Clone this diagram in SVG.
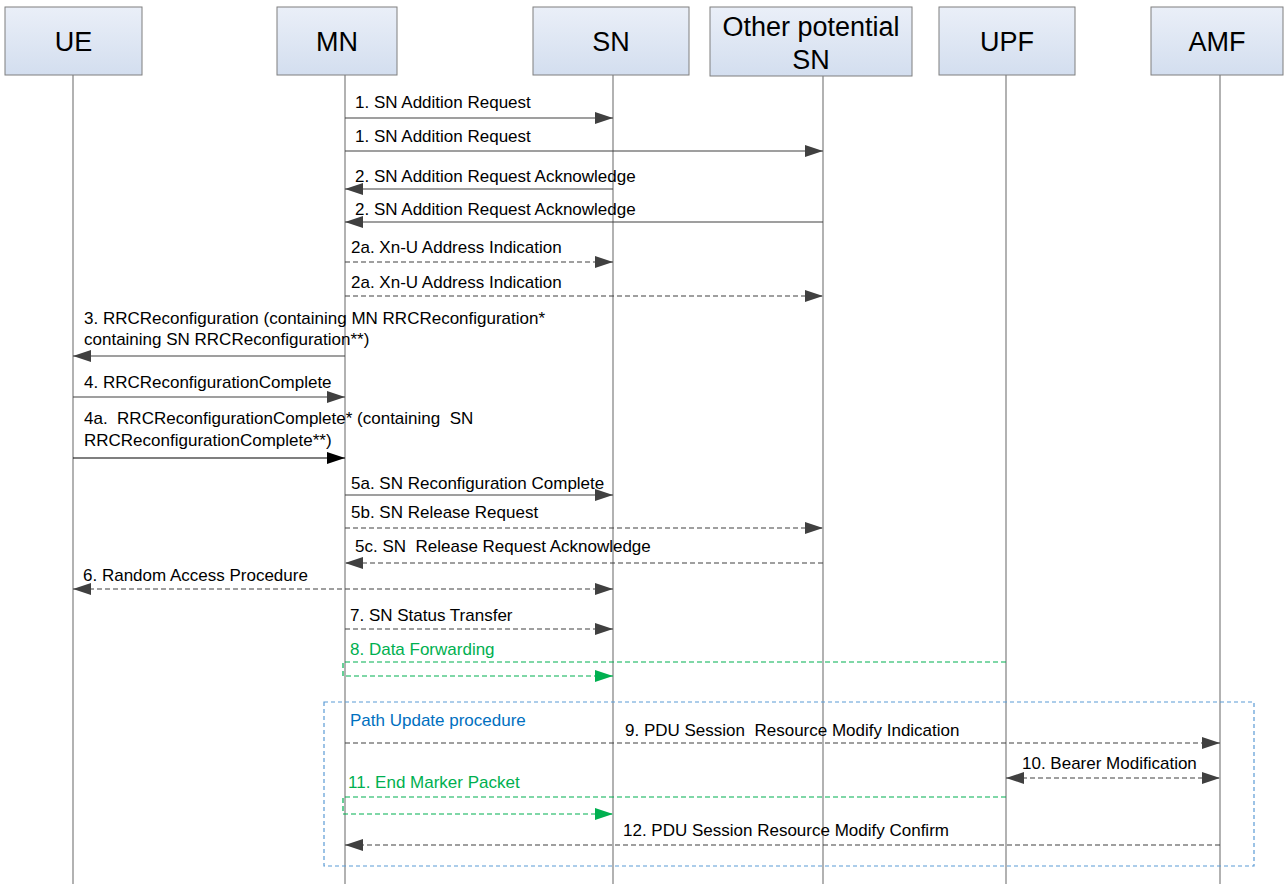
<svg xmlns="http://www.w3.org/2000/svg" width="1284" height="884" viewBox="0 0 1284 884">
<defs>
<linearGradient id="g" x1="0" y1="0" x2="0" y2="1"><stop offset="0" stop-color="#eaeff8"/><stop offset="1" stop-color="#d3deef"/></linearGradient>
<marker id="a" viewBox="0 0 18 12" refX="18" refY="6" markerWidth="18" markerHeight="12" markerUnits="userSpaceOnUse" orient="auto"><path d="M0,0L18,6L0,12z" fill="#404040"/></marker>
<marker id="as" viewBox="0 0 18 12" refX="0" refY="6" markerWidth="18" markerHeight="12" markerUnits="userSpaceOnUse" orient="auto"><path d="M18,0L0,6L18,12z" fill="#404040"/></marker>
<marker id="ab" viewBox="0 0 18 12" refX="18" refY="6" markerWidth="18" markerHeight="12" markerUnits="userSpaceOnUse" orient="auto"><path d="M0,0L18,6L0,12z" fill="#000"/></marker>
<marker id="ag" viewBox="0 0 18 12" refX="18" refY="6" markerWidth="18" markerHeight="12" markerUnits="userSpaceOnUse" orient="auto"><path d="M0,0L18,6L0,12z" fill="#00B050"/></marker>
</defs>
<style>
.box{fill:url(#g);stroke:#7f7f7f;stroke-width:1}
.hd{font-family:"Liberation Sans",Arial,sans-serif;font-size:27px;fill:#000;text-anchor:middle}
.life{stroke:#7f7f7f;stroke-width:1.2;fill:none}
.m{stroke:#404040;stroke-width:1.2;fill:none}
.d{stroke-dasharray:5,3}
.g{stroke:#00B050}
.t{font-family:"Liberation Sans",Arial,sans-serif;font-size:17px;fill:#000;white-space:pre}
.tg{fill:#00B050}
.tb{fill:#0070C0}
</style>
<g id="UE"><rect class="box" x="5" y="7" width="137" height="68"/><text class="hd" x="73.5" y="51">UE</text></g>
<g id="MN"><rect class="box" x="277" y="7" width="120" height="68"/><text class="hd" x="337" y="51">MN</text></g>
<g id="SN"><rect class="box" x="533" y="7" width="156" height="68"/><text class="hd" x="611" y="51">SN</text></g>
<g id="OtherSN"><rect class="box" x="710" y="7" width="202" height="69"/><text class="hd" x="811" y="36">Other potential</text><text class="hd" x="811" y="69">SN</text></g>
<g id="UPF"><rect class="box" x="939" y="7" width="136" height="68"/><text class="hd" x="1007" y="51">UPF</text></g>
<g id="AMF"><rect class="box" x="1151" y="7" width="132" height="68"/><text class="hd" x="1217" y="51">AMF</text></g>
<g id="lifelines">
<line class="life" x1="73" y1="75" x2="73" y2="884"/>
<line class="life" x1="345" y1="75" x2="345" y2="884"/>
<line class="life" x1="613" y1="75" x2="613" y2="884"/>
<line class="life" x1="823" y1="76" x2="823" y2="884"/>
<line class="life" x1="1006" y1="75" x2="1006" y2="884"/>
<line class="life" x1="1220" y1="75" x2="1220" y2="884"/>
</g>
<g id="pathupdate">
<rect x="324" y="702" width="930" height="164" fill="none" stroke="#5B9BD5" stroke-width="1.2" stroke-dasharray="4,3"/>
<text class="t tb" x="350" y="726">Path Update procedure</text>
</g>
<g id="connectors">
<line class="m" x1="345" y1="118" x2="613" y2="118" marker-end="url(#a)"/>
<line class="m" x1="345" y1="151" x2="823" y2="151" marker-end="url(#a)"/>
<line class="m" x1="613" y1="189" x2="345" y2="189" marker-end="url(#a)"/>
<line class="m" x1="823" y1="222" x2="345" y2="222" marker-end="url(#a)"/>
<line class="m d" x1="345" y1="262" x2="613" y2="262" marker-end="url(#a)"/>
<line class="m d" x1="345" y1="296" x2="823" y2="296" marker-end="url(#a)"/>
<line class="m" x1="345" y1="356" x2="73" y2="356" marker-end="url(#a)"/>
<line class="m" x1="73" y1="397" x2="345" y2="397" marker-end="url(#a)"/>
<line x1="73" y1="458" x2="345" y2="458" stroke="#000" stroke-width="1.2" marker-end="url(#ab)"/>
<line class="m" x1="345" y1="495" x2="613" y2="495" marker-end="url(#a)"/>
<line class="m d" x1="345" y1="528" x2="823" y2="528" marker-end="url(#a)"/>
<line class="m d" x1="823" y1="563" x2="345" y2="563" marker-end="url(#a)"/>
<line class="m d" x1="73" y1="589" x2="613" y2="589" marker-start="url(#as)" marker-end="url(#a)"/>
<line class="m d" x1="345" y1="629" x2="613" y2="629" marker-end="url(#a)"/>
<polyline class="m d g" points="1006,662 343,662 343,676 613,676" marker-end="url(#ag)"/>
<line class="m d" x1="345" y1="743" x2="1220" y2="743" marker-end="url(#a)"/>
<line class="m d" x1="1006" y1="778" x2="1220" y2="778" marker-start="url(#as)" marker-end="url(#a)"/>
<polyline class="m d g" points="1006,797 343,797 343,814 613,814" marker-end="url(#ag)"/>
<line class="m d" x1="1220" y1="845" x2="345" y2="845" marker-end="url(#a)"/>
</g>
<g id="labels">
<text class="t" x="355" y="108">1. SN Addition Request</text>
<text class="t" x="355" y="142">1. SN Addition Request</text>
<text class="t" x="355" y="182">2. SN Addition Request Acknowledge</text>
<text class="t" x="355" y="215">2. SN Addition Request Acknowledge</text>
<text class="t" x="351" y="253">2a. Xn-U Address Indication</text>
<text class="t" x="351" y="288">2a. Xn-U Address Indication</text>
<text class="t" x="84" y="324">3. RRCReconfiguration (containing MN RRCReconfiguration*</text>
<text class="t" x="84" y="345">containing SN RRCReconfiguration**)</text>
<text class="t" x="84" y="388">4. RRCReconfigurationComplete</text>
<text class="t" x="84" y="424">4a.  RRCReconfigurationComplete* (containing  SN</text>
<text class="t" x="84" y="446">RRCReconfigurationComplete**)</text>
<text class="t" x="351" y="489">5a. SN Reconfiguration Complete</text>
<text class="t" x="351" y="518">5b. SN Release Request</text>
<text class="t" x="355" y="552">5c. SN  Release Request Acknowledge</text>
<text class="t" x="83" y="581">6. Random Access Procedure</text>
<text class="t" x="350" y="621">7. SN Status Transfer</text>
<text class="t tg" x="350" y="655">8. Data Forwarding</text>
<text class="t" x="625" y="736">9. PDU Session  Resource Modify Indication</text>
<text class="t" x="1022" y="769">10. Bearer Modification</text>
<text class="t tg" x="348" y="788">11. End Marker Packet</text>
<text class="t" x="623" y="836">12. PDU Session Resource Modify Confirm</text>
</g>
</svg>
